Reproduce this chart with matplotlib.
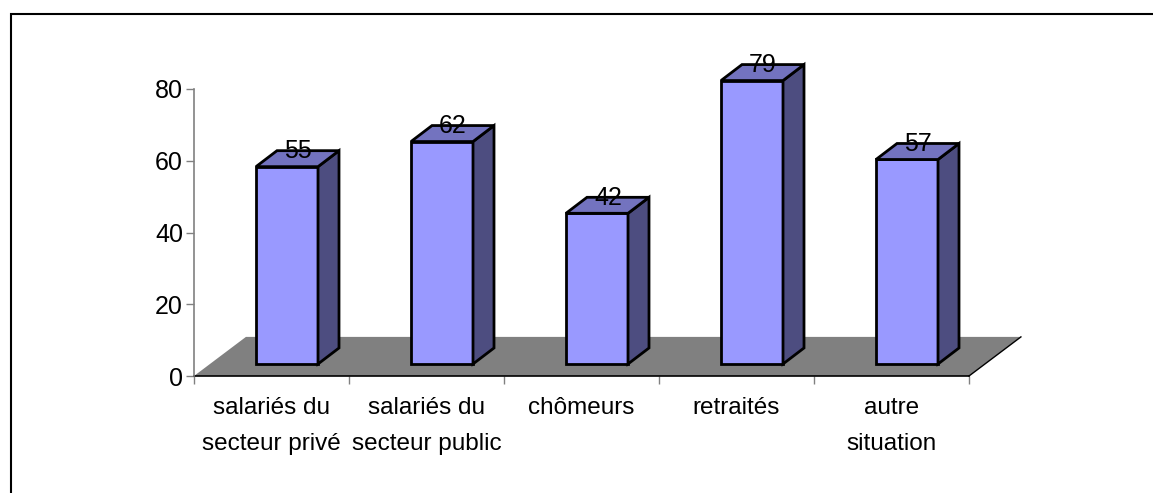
import matplotlib
matplotlib.use('Agg')
import matplotlib.pyplot as plt
from matplotlib.lines import Line2D
from matplotlib.patches import Polygon

categories = ['salariés du\nsecteur privé', 'salariés du\nsecteur public', 'chômeurs', 'retraités', 'autre\nsituation']
values = [55, 62, 42, 79, 57]
yticks = [0, 20, 40, 60, 80]

plt.rcParams['font.family'] = ['Liberation Sans', 'DejaVu Sans']

W, H = 1153, 493
fig = plt.figure(figsize=(W / 100, H / 100), dpi=100)

# cadre noir : seulement en haut et a gauche
fig.add_artist(Line2D([11 / W, 11 / W, 1], [0, (H - 14) / H, (H - 14) / H], transform=fig.transFigure,
                      color='black', linewidth=1.5, solid_joinstyle='miter'))

ax = fig.add_axes([194 / W, (H - 376) / H, 775 / W, 287 / H])
ax.set_xlim(0, 5)
ax.set_ylim(0, 80)
ax.patch.set_alpha(0)

# profondeur de la vue 3D
bar_w = 0.4
bar_left = 0.4
dx = 0.1355
dy = 4.46
base = 3.35
floor_dx = 0.335
floor_dy = 10.9

# sol gris
ax.add_patch(Polygon([(0, 0), (5, 0), (5 + floor_dx, floor_dy), (floor_dx, floor_dy)], closed=True,
                     facecolor='#808080', edgecolor='none', clip_on=False, zorder=1))
ax.plot([5, 5 + floor_dx], [0, floor_dy], color='black', linewidth=1, clip_on=False, zorder=2)

for i, v in enumerate(values):
    x0 = i + bar_left
    x1 = x0 + bar_w
    top = base + v
    ax.add_patch(Polygon([(x0, base), (x1, base), (x1, top), (x0, top)], closed=True, facecolor='#9999ff',
                         edgecolor='black', linewidth=2, clip_on=False, zorder=3, joinstyle='miter'))
    ax.add_patch(Polygon([(x1, base), (x1 + dx, base + dy), (x1 + dx, top + dy), (x1, top)], closed=True,
                         facecolor='#4d4d80', edgecolor='black', linewidth=2, clip_on=False, zorder=3))
    ax.add_patch(Polygon([(x0, top), (x1, top), (x1 + dx, top + dy), (x0 + dx, top + dy)], closed=True,
                         facecolor='#7373bf', edgecolor='black', linewidth=2, clip_on=False, zorder=3))
    ax.text(x0 + bar_w / 2 + dx * 0.52, top + dy * 0.95, str(v), ha='center', va='center', fontsize=18,
            color='black', zorder=4, clip_on=False)

for s in ['top', 'right']:
    ax.spines[s].set_visible(False)
ax.spines['left'].set_color('#808080')
ax.spines['left'].set_linewidth(1.2)
ax.spines['bottom'].set_color('black')
ax.spines['bottom'].set_linewidth(1.2)
ax.spines['bottom'].set_zorder(2)

ax.set_yticks(yticks)
ax.set_xticks(range(6))
ax.set_xticklabels([])
ax.tick_params(axis='y', length=6, width=1, color='#808080', labelsize=18, pad=2)
ax.tick_params(axis='x', length=6, width=1, color='#808080')

for i, c in enumerate(categories):
    ax.annotate(c, xy=(i + 0.5, 0), xycoords='data', xytext=(0, -15), textcoords='offset points',
                ha='center', va='top', fontsize=17.5, linespacing=1.85, annotation_clip=False)

fig.savefig('out.png', dpi=100)
